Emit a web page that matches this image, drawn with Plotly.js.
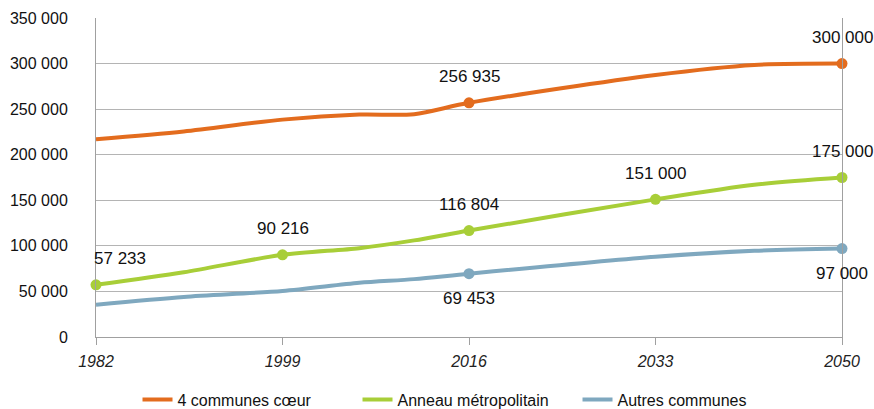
<!DOCTYPE html>
<html>
<head>
<meta charset="utf-8">
<script src="https://cdn.plot.ly/plotly-3.0.1.min.js"></script>
<style>html,body{margin:0;padding:0;background:#fff;}#chart{width:874px;height:409px;}</style>
</head>
<body>
<div id="chart"></div>
<script>
// ---- data ----
const years  = [1982, 1990, 1999, 2006, 2011, 2016, 2033, 2042, 2050];
const coeur  = [217000, 225500, 238500, 244000, 244500, 256935, 287500, 298500, 300000];
const anneau = [57233, 71000, 90216, 97500, 106000, 116804, 151000, 167000, 175000];
const autres = [35500, 44000, 50500, 59500, 63500, 69453, 88000, 94500, 97000];

const seriesNames = ["4 communes cœur", "Anneau métropolitain", "Autres communes"];
const labelledYears = {
  coeur:  [2016, 2050],
  anneau: [1982, 1999, 2016, 2033, 2050],
  autres: [2016, 2050]
};
const labelValues = {
  coeur:  [256935, 300000],
  anneau: [57233, 90216, 116804, 151000, 175000],
  autres: [69453, 97000]
};
const xTicks = [1982, 1999, 2016, 2033, 2050];

// ---- styles ----
const colors = {coeur: "#E36C1E", anneau: "#A8CE38", autres: "#7FA8BF"};
const baseFamily = "'Liberation Sans', Arial, sans-serif";
const labelFont = {family: baseFamily, size: 17, color: "#111"};
const fmt = v => String(v).replace(/\B(?=(\d{3})+(?!\d))/g, " ");

const seriesData = {coeur: coeur, anneau: anneau, autres: autres};
const keys = ["coeur", "anneau", "autres"];
const traces = [];
const annotations = [];
keys.forEach((k, i) => {
  traces.push({
    x: years, y: seriesData[k], type: "scatter", mode: "lines",
    name: seriesNames[i],
    line: {color: colors[k], width: 4, shape: "spline", smoothing: 0.8},
    hoverinfo: "skip"
  });
  const lx = labelledYears[k];
  const ly = lx.map(yr => seriesData[k][years.indexOf(yr)]);
  traces.push({
    x: lx, y: ly, type: "scatter", mode: "markers", showlegend: false,
    marker: {color: colors[k], size: 11}, cliponaxis: false, hoverinfo: "skip"
  });
  lx.forEach((yr, j) => {
    const below = (k === "autres");
    const ann = {
      x: yr, y: ly[j], xref: "x", yref: "y", showarrow: false,
      text: fmt(labelValues[k][j]), font: labelFont,
      yshift: below ? -25 : 26
    };
    if (k === "anneau" && yr === 1982) { ann.xanchor = "left"; ann.xshift = -4; }
    annotations.push(ann);
  });
});

const layout = {
  width: 874, height: 409,
  margin: {l: 96, r: 32, t: 18, b: 72, autoexpand: false},
  paper_bgcolor: "#fff", plot_bgcolor: "#fff",
  separators: ". ",
  showlegend: true,
  legend: {
    orientation: "h", x: 0.498, xanchor: "center", y: -0.196, yanchor: "middle",
    font: {family: baseFamily, size: 16, color: "#111"},
    entrywidth: 175, entrywidthmode: "pixels",
    traceorder: "normal"
  },
  xaxis: {
    type: "linear", range: [1982, 2050],
    tickvals: xTicks, ticktext: xTicks.map(String),
    showgrid: false, zeroline: false,
    showline: true, linecolor: "#a0a0a0", linewidth: 1,
    ticks: "outside", ticklen: 7, tickcolor: "#a0a0a0",
    ticklabelstandoff: 3,
    tickfont: {family: baseFamily, size: 16, color: "#222", style: "italic"}
  },
  yaxis: {
    range: [0, 350000], dtick: 50000, tick0: 0, tickformat: ",d",
    showgrid: true, gridcolor: "#b4b4b4", gridwidth: 1,
    zeroline: false, showline: true, linecolor: "#a0a0a0", linewidth: 1, mirror: true,
    ticks: "", ticklabelstandoff: 24,
    tickfont: {family: baseFamily, size: 16, color: "#111"}
  },
  annotations: annotations
};

Plotly.newPlot("chart", traces, layout, {staticPlot: true, displayModeBar: false});
</script>
</body>
</html>
